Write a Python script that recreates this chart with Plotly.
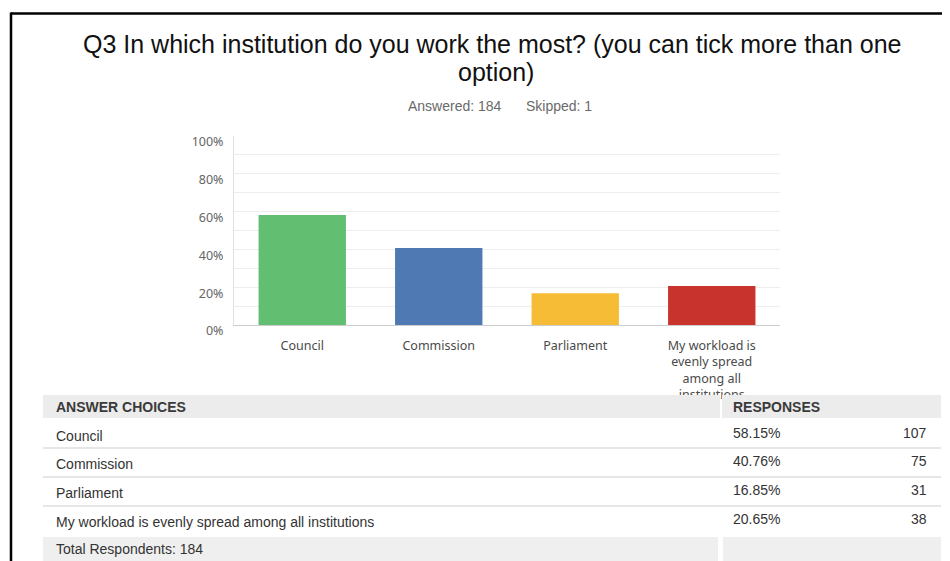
import plotly.graph_objects as go

# ---- data ----
title_line1 = "Q3 In which institution do you work the most? (you can tick more than one"
title_line2 = "option)"
answered = 184
skipped = 1
categories = ["Council", "Commission", "Parliament",
              "My workload is evenly spread among all institutions"]
axis_labels = ["Council", "Commission", "Parliament",
               "My workload is<br>evenly spread<br>among all<br>institutions"]
pct = [58.15, 40.76, 16.85, 20.65]
counts = [107, 75, 31, 38]
total_respondents = 184
bar_colors = ["#62BF72", "#4E79B2", "#F6BC35", "#C8342D"]

# page body has an 8px margin; the figure starts at (8, 8) in the window
OFF = 8
W, H = 950 - OFF, 561 - OFF
def px(x):
    return (x - OFF) / W
def py(y):
    return 1 - (y - OFF) / H

fig = go.Figure()
fig.add_trace(go.Bar(
    x=categories, y=[p / 100 for p in pct],
    marker=dict(color=bar_colors, line=dict(width=0)),
    width=0.64, hoverinfo="skip",
))

fig.update_layout(
    width=W, height=H,
    margin=dict(l=0, r=0, t=0, b=0, pad=0, autoexpand=False),
    paper_bgcolor="white", plot_bgcolor="white",
    showlegend=False,
    xaxis=dict(
        domain=[px(234), px(780)],
        tickmode="array", tickvals=categories, ticktext=axis_labels,
        tickfont=dict(family="Noto Sans", size=12.5, color="#4a4a4a"),
        showline=True, linecolor="#cccccc", linewidth=1,
        showgrid=False, ticks="", ticklabelstandoff=9,
        automargin=False, fixedrange=True,
    ),
    yaxis=dict(
        domain=[py(325), py(136)],
        range=[0, 1],
        tickvals=[0, 0.2, 0.4, 0.6, 0.8, 1.0],
        tickformat=".0%",
        tickfont=dict(family="Noto Sans", size=12.5, color="#666666"),
        showgrid=True, gridcolor="#eeeeee", gridwidth=1,
        minor=dict(dtick=0.1, showgrid=True, gridcolor="#eeeeee", gridwidth=1),
        showline=True, linecolor="#e2e2e2", linewidth=1,
        zeroline=False, ticks="", ticklabelstandoff=7,
        ticklabelshift=6,
        automargin=False, fixedrange=True,
    ),
)

shapes = []
annotations = []

# outer border (top and left)
shapes.append(dict(type="line", xref="paper", yref="paper",
                   x0=px(11), x1=px(960), y0=py(13.5), y1=py(13.5),
                   line=dict(color="black", width=2.5), layer="above"))
shapes.append(dict(type="line", xref="paper", yref="paper",
                   x0=px(11), x1=px(11), y0=py(12.5), y1=py(570),
                   line=dict(color="black", width=2.5), layer="above"))

# title
tfont_title = dict(family="Liberation Sans", size=25, color="#111111")
annotations.append(dict(text=title_line1, xref="paper", yref="paper",
                        x=px(492), y=py(43.5), xanchor="center", yanchor="middle",
                        showarrow=False, font=tfont_title))
annotations.append(dict(text=title_line2, xref="paper", yref="paper",
                        x=px(496), y=py(72), xanchor="center", yanchor="middle",
                        showarrow=False, font=tfont_title))
sub_font = dict(family="Liberation Sans", size=14, color="#6a6a6a")
annotations.append(dict(text=f"Answered: {answered}", xref="paper", yref="paper",
                        x=px(406), y=py(106), xanchor="left", yanchor="middle",
                        showarrow=False, font=sub_font))
annotations.append(dict(text=f"Skipped: {skipped}", xref="paper", yref="paper",
                        x=px(524), y=py(106), xanchor="left", yanchor="middle",
                        showarrow=False, font=sub_font))

# table
tl, tr, split = 43, 941, 720
head_top, head_bot = 395, 418
shapes.append(dict(type="rect", xref="paper", yref="paper",
                   x0=px(tl), x1=px(split), y0=py(head_bot), y1=py(head_top),
                   fillcolor="#ececec", line=dict(width=0), layer="above"))
shapes.append(dict(type="rect", xref="paper", yref="paper",
                   x0=px(split + 2), x1=px(tr), y0=py(head_bot), y1=py(head_top),
                   fillcolor="#ececec", line=dict(width=0), layer="above"))

tfont = dict(family="Liberation Sans", size=14, color="#333333")
hfont = dict(family="Liberation Sans", size=14, color="#3a3a3a")
annotations.append(dict(text="<b>ANSWER CHOICES</b>", xref="paper", yref="paper",
                        x=px(54), y=py(407), xanchor="left", yanchor="middle",
                        showarrow=False, font=hfont))
annotations.append(dict(text="<b>RESPONSES</b>", xref="paper", yref="paper",
                        x=px(731), y=py(407), xanchor="left", yanchor="middle",
                        showarrow=False, font=hfont))

row_text_y = [436, 464, 493, 522]
row_sep_y = [448, 477, 506]
for i, cat in enumerate(categories):
    yy = row_text_y[i]
    annotations.append(dict(text=cat, xref="paper", yref="paper",
                            x=px(54), y=py(yy), xanchor="left", yanchor="middle",
                            showarrow=False, font=tfont))
    annotations.append(dict(text=f"{pct[i]:.2f}%", xref="paper", yref="paper",
                            x=px(731), y=py(yy - 3), xanchor="left", yanchor="middle",
                            showarrow=False, font=tfont))
    annotations.append(dict(text=str(counts[i]), xref="paper", yref="paper",
                            x=px(929), y=py(yy - 3), xanchor="right", yanchor="middle",
                            showarrow=False, font=tfont))
for ys in row_sep_y:
    shapes.append(dict(type="line", xref="paper", yref="paper",
                       x0=px(tl), x1=px(tr), y0=py(ys), y1=py(ys),
                       line=dict(color="#e6e6e6", width=2), layer="above"))

# total row
tot_top = 537
shapes.append(dict(type="rect", xref="paper", yref="paper",
                   x0=px(tl), x1=px(split - 2), y0=py(570), y1=py(tot_top),
                   fillcolor="#efefef", line=dict(width=0), layer="above"))
shapes.append(dict(type="rect", xref="paper", yref="paper",
                   x0=px(split + 3), x1=px(tr), y0=py(570), y1=py(tot_top),
                   fillcolor="#efefef", line=dict(width=0), layer="above"))
annotations.append(dict(text=f"Total Respondents: {total_respondents}", xref="paper", yref="paper",
                        x=px(54), y=py(549), xanchor="left", yanchor="middle",
                        showarrow=False, font=tfont))

fig.update_layout(shapes=shapes, annotations=annotations)
fig.write_html("out.html", config={"displayModeBar": False})
